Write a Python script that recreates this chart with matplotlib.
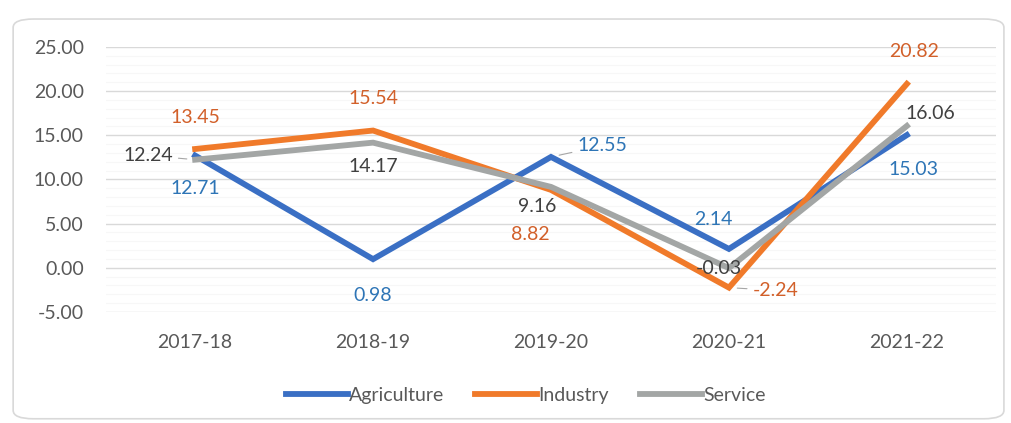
import matplotlib.pyplot as plt
from matplotlib.patches import FancyBboxPatch
import numpy as np

years = ["2017-18", "2018-19", "2019-20", "2020-21", "2021-22"]
agriculture = [12.71, 0.98, 12.55, 2.14, 15.03]
industry = [13.45, 15.54, 8.82, -2.24, 20.82]
service = [12.24, 14.17, 9.16, -0.03, 16.06]

plt.rcParams['font.family'] = ['Lato', 'DejaVu Sans']
fs = 14

fig = plt.figure(figsize=(10.11, 4.23), dpi=100)
fig.patches.append(FancyBboxPatch((0.013, 0.01), 0.98, 0.945,
                                  boxstyle="round,pad=0,rounding_size=0.02",
                                  transform=fig.transFigure, facecolor="white",
                                  edgecolor="#d9d9d9", linewidth=1.2, zorder=-1))
ax = fig.add_axes([0.105, 0.2624, 0.88, 0.6266])
ax.patch.set_alpha(0)

x = np.arange(len(years))
blue, orange, gray = "#3a6fc4", "#f07a2a", "#a3a6a5"
ax.plot(x, agriculture, color=blue, lw=4.2, label="Agriculture", zorder=3, solid_joinstyle="miter")
ax.plot(x, industry, color=orange, lw=4.2, label="Industry", zorder=3, solid_joinstyle="miter")
ax.plot(x, service, color=gray, lw=4.2, label="Service", zorder=4, solid_joinstyle="miter")

ax.set_xlim(-0.5, 4.5)
ax.set_ylim(-5, 25)
ax.set_yticks(np.arange(-5, 26, 5))
ax.set_yticklabels([f"{v:.2f}" for v in np.arange(-5, 26, 5)])
ax.set_yticks(np.arange(-5, 26, 1), minor=True)
ax.set_xticks(x)
ax.set_xticklabels(years)
ax.grid(axis="y", which="major", color="#d9d9d9", lw=1)
ax.grid(axis="y", which="minor", color="#f7f7f7", lw=0.8)
ax.set_axisbelow(True)
for s in ax.spines.values():
    s.set_visible(False)
ax.tick_params(axis="both", which="both", length=0, labelsize=fs, colors="#595959")
ax.tick_params(axis="x", pad=16)
ax.tick_params(axis="y", pad=16)

# offsets in points, alignment, leader line
ag_off = [(0, -24, "center", False), (0, -26, "center", False), (19, 8, "left", True),
          (-11, 21, "center", False), (5, -25, "center", False)]
in_off = [(0, 23, "center", False), (0, 23, "center", False), (-15, -32, "center", False),
          (17, -2, "left", True), (5, 23, "center", False)]
se_off = [(-16, 3, "right", True), (0, -17, "center", False), (-10, -14, "center", False),
          (-7, 0, "center", False), (17, 9, "center", False)]

for vals, col, offs in [(agriculture, "#2e75b6", ag_off), (industry, "#d2602a", in_off),
                        (service, "#404040", se_off)]:
    for i, v in enumerate(vals):
        dx, dy, ha, lead = offs[i]
        kw = {}
        if lead:
            kw["arrowprops"] = dict(arrowstyle="-", color="#a6a6a6", lw=0.8,
                                    shrinkA=2, shrinkB=6)
        ax.annotate(f"{v:.2f}", (i, v), xytext=(dx, dy), textcoords="offset points",
                    ha=ha, va="center", fontsize=fs, color=col, zorder=6, **kw)

leg = fig.legend(loc="center", bbox_to_anchor=(0.52, 1 - 395 / 423), ncol=3,
                 frameon=False, fontsize=fs, handlelength=3.2, handletextpad=0.05,
                 columnspacing=1.6)
for t in leg.get_texts():
    t.set_color("#595959")

fig.savefig("out.png", dpi=100)
